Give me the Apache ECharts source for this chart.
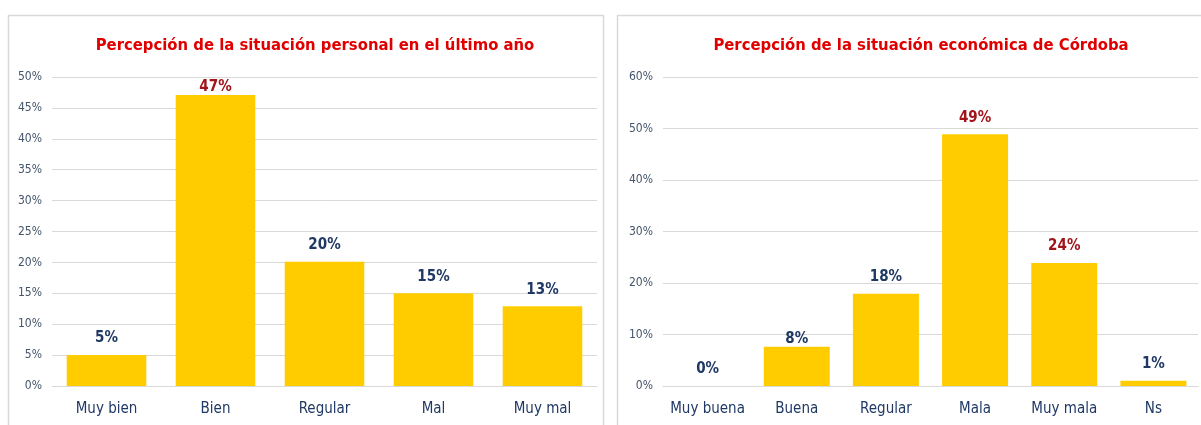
<!DOCTYPE html>
<html>
<head>
<meta charset="utf-8">
<script src="https://cdn.jsdelivr.net/npm/echarts@6/dist/echarts.min.js"></script>
<style>
  html, body { margin: 0; padding: 0; background: #fff; }
  #chart { width: 1201px; height: 425px; }
</style>
</head>
<body>
<div id="chart"></div>
<script>
// datos del gráfico izquierdo
var personalCats = ['Muy bien', 'Bien', 'Regular', 'Mal', 'Muy mal'];
var personalVals = [5, 47.1, 20.1, 15, 12.9];
var personalTicks = [0, 5, 10, 15, 20, 25, 30, 35, 40, 45, 50];

// datos del gráfico derecho
var cordobaCats = ['Muy buena', 'Buena', 'Regular', 'Mala', 'Muy mala', 'Ns'];
var cordobaVals = [0, 7.6, 17.9, 48.9, 23.9, 1.0];
var cordobaTicks = [0, 10, 20, 30, 40, 50, 60];

var font = '"DejaVu Sans Condensed", "Liberation Sans", sans-serif';
var navy = '#1f3864';
var darkRed = '#a0141a';

function labelColor(v) {
  return v > 21 ? darkRed : navy;
}

// en el original algunas etiquetas quedan pegadas a la barra
function barData(vals, tight) {
  return vals.map(function (v, i) {
    var lbl = { color: labelColor(v) };
    if (tight.indexOf(i) >= 0) lbl.distance = 0;
    return { value: v, label: lbl };
  });
}

function yAxis(idx, ticks) {
  return {
    type: 'value',
    gridIndex: idx,
    min: ticks[0],
    max: ticks[ticks.length - 1],
    interval: ticks[1] - ticks[0],
    axisLine: { show: false },
    axisTick: { show: false },
    axisLabel: {
      formatter: '{value}%',
      color: '#44546a',
      fontFamily: font,
      fontSize: 12,
      margin: 10
    },
    splitLine: { lineStyle: { color: '#d9d9d9' } }
  };
}

function xAxis(idx, cats) {
  return {
    type: 'category',
    gridIndex: idx,
    data: cats,
    axisLine: { lineStyle: { color: '#d9d9d9' } },
    axisTick: { show: false },
    axisLabel: {
      interval: 0,
      color: navy,
      fontFamily: font,
      fontSize: 15,
      margin: 16
    }
  };
}

function barLabel() {
  return {
    show: true, position: 'top', distance: 9,
    fontFamily: font, fontSize: 15, fontWeight: 'bold',
    formatter: function (p) { return Math.round(p.value) + '%'; }
  };
}

var chart = echarts.init(document.getElementById('chart'));

var option = {
  animation: false,
  backgroundColor: '#fff',
  graphic: [
    { type: 'rect', shape: { x: 8.5, y: 15.5, width: 595, height: 420 }, style: { fill: 'none', stroke: '#d9d9d9', lineWidth: 1.5 }, z: -1 },
    { type: 'rect', shape: { x: 617.5, y: 15.5, width: 600, height: 420 }, style: { fill: 'none', stroke: '#d9d9d9', lineWidth: 1.5 }, z: -1 }
  ],
  title: [
    {
      text: 'Percepción de la situación personal en el último año',
      left: 310, textAlign: 'center', top: 32,
      textStyle: { color: '#e00000', fontFamily: font, fontSize: 16.5, fontWeight: 'bold' }
    },
    {
      text: 'Percepción de la situación económica de Córdoba',
      left: 916, textAlign: 'center', top: 32,
      textStyle: { color: '#e00000', fontFamily: font, fontSize: 16.5, fontWeight: 'bold' }
    }
  ],
  grid: [
    { left: 52, right: 604, top: 77, bottom: 39 },
    { left: 663, right: 3, top: 77, bottom: 39 }
  ],
  xAxis: [xAxis(0, personalCats), xAxis(1, cordobaCats)],
  yAxis: [yAxis(0, personalTicks), yAxis(1, cordobaTicks)],
  series: [
    {
      type: 'bar',
      xAxisIndex: 0, yAxisIndex: 0,
      data: barData(personalVals, [1]),
      barCategoryGap: '27%',
      itemStyle: { color: '#ffcc00' },
      label: barLabel()
    },
    {
      type: 'bar',
      xAxisIndex: 1, yAxisIndex: 1,
      data: barData(cordobaVals, [1]),
      barCategoryGap: '26%',
      itemStyle: { color: '#ffcc00' },
      label: barLabel()
    }
  ]
};

chart.setOption(option);
</script>
</body>
</html>
